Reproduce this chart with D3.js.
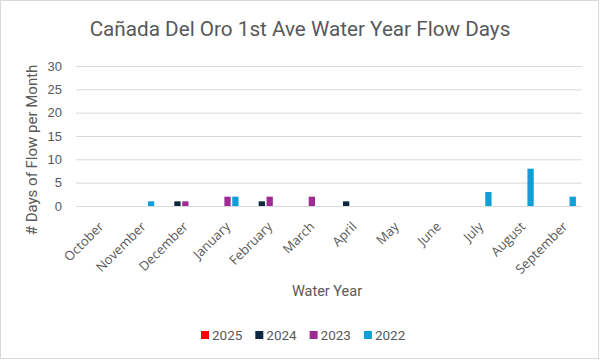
<!DOCTYPE html>
<html>
<head>
<meta charset="utf-8">
<script src="https://cdn.jsdelivr.net/npm/d3@7"></script>
<style>
  body { margin: 0; background: #ffffff; }
  svg { display: block; }
</style>
</head>
<body>
<div id="canvas"></div>
<script>
// Datos de la grafica
const months = ["October", "November", "December", "January", "February", "March",
                "April", "May", "June", "July", "August", "September"];
const years = ["2025", "2024", "2023", "2022"];
const yearColors = ["#FF0000", "#0E2841", "#A02B93", "#0F9ED5"];
const days2025 = [0, 0, 0, 0, 0, 0, 0, 0, 0, 0, 0, 0];
const days2024 = [0, 0, 1, 0, 1, 0, 1, 0, 0, 0, 0, 0];
const days2023 = [0, 0, 1, 2, 2, 2, 0, 0, 0, 0, 0, 0];
const days2022 = [0, 1, 0, 2, 0, 0, 0, 0, 0, 3, 8, 2];
const yTicks = [0, 5, 10, 15, 20, 25, 30];

const series = [days2025, days2024, days2023, days2022];
const data = months.map((m, i) => ({
    month: m,
    values: years.map((y, j) => ({ year: y, value: series[j][i] }))
}));

const width = 600;
const height = 360;
const margin = {top: 66, left: 76, bottom: 154, right: 18};
const iwidth = width - margin.left - margin.right;
const iheight = height - margin.top - margin.bottom;
const grey = "#595959";

const svg = d3.select("#canvas").append("svg")
    .attr("width", width)
    .attr("height", height);

// Borde del grafico
svg.append("rect")
    .attr("x", 0.5).attr("y", 0.5)
    .attr("width", width - 2).attr("height", height - 2)
    .attr("fill", "#ffffff")
    .attr("stroke", "#d9d9d9");

const g = svg.append("g").attr("transform", `translate(${margin.left}, ${margin.top})`);

// Escalas
const x0 = d3.scaleBand()
    .domain(months)
    .range([0, iwidth])
    .paddingInner(0.29)
    .paddingOuter(0.145);

const x1 = d3.scaleBand()
    .domain(years)
    .range([0, x0.bandwidth()])
    .paddingInner(0.2);

const y = d3.scaleLinear()
    .domain([0, 30])
    .range([iheight, 0]);

// Lineas de la cuadricula y eje y
const yAxis = g.append("g")
    .call(d3.axisLeft(y).tickValues(yTicks).tickSize(-iwidth).tickPadding(14));
yAxis.select(".domain").remove();
yAxis.selectAll(".tick line").attr("stroke", "#d9d9d9");
yAxis.selectAll(".tick text")
    .attr("fill", grey)
    .style("font-family", "'Liberation Sans', Arial, sans-serif")
    .style("font-size", "13px");

// Barras
const groups = g.selectAll(".group").data(data).enter().append("g")
    .attr("class", "group")
    .attr("transform", d => `translate(${x0(d.month)}, 0)`);

groups.selectAll("rect").data(d => d.values.filter(v => v.value > 0)).enter().append("rect")
    .attr("x", d => x1(d.year))
    .attr("y", d => y(d.value))
    .attr("width", x1.bandwidth())
    .attr("height", d => y(0) - y(d.value))
    .attr("fill", d => yearColors[years.indexOf(d.year)]);

// Eje x con etiquetas rotadas
const xAxis = g.append("g")
    .attr("transform", `translate(0, ${iheight})`)
    .call(d3.axisBottom(x0).tickSize(0).tickPadding(0));
xAxis.select(".domain").remove();
xAxis.selectAll(".tick text")
    .attr("fill", grey)
    .style("font-family", "'Open Sans', sans-serif")
    .style("font-size", "13px")
    .attr("text-anchor", "end")
    .attr("transform", "translate(1, 15) rotate(-45)")
    .attr("dy", "0.7em");

// Titulo
svg.append("text")
    .attr("x", 300)
    .attr("y", 36)
    .attr("text-anchor", "middle")
    .attr("fill", grey)
    .style("font-family", "Roboto, sans-serif")
    .style("font-size", "20.7px")
    .text("Cañada Del Oro 1st Ave Water Year Flow Days");

// Titulo eje y
svg.append("text")
    .attr("transform", "translate(37, 150) rotate(-90)")
    .attr("text-anchor", "middle")
    .attr("fill", grey)
    .style("font-family", "Roboto, sans-serif")
    .style("font-size", "15px")
    .text("# Days of Flow per Month");

// Titulo eje x
svg.append("text")
    .attr("x", 327)
    .attr("y", 296)
    .attr("text-anchor", "middle")
    .attr("fill", grey)
    .style("font-family", "Roboto, sans-serif")
    .style("font-size", "14.5px")
    .text("Water Year");

// Leyenda
const legend = svg.append("g").attr("transform", "translate(201, 335)");
const items = legend.selectAll("g").data(years).enter().append("g")
    .attr("transform", (d, i) => `translate(${i * 54.3}, 0)`);
items.append("rect")
    .attr("x", 0).attr("y", -4)
    .attr("width", 8).attr("height", 8)
    .attr("fill", (d, i) => yearColors[i]);
items.append("text")
    .attr("x", 11)
    .attr("y", 4.5)
    .attr("fill", grey)
    .style("font-family", "Roboto, sans-serif")
    .style("font-size", "13.5px")
    .text(d => d);
</script>
</body>
</html>
